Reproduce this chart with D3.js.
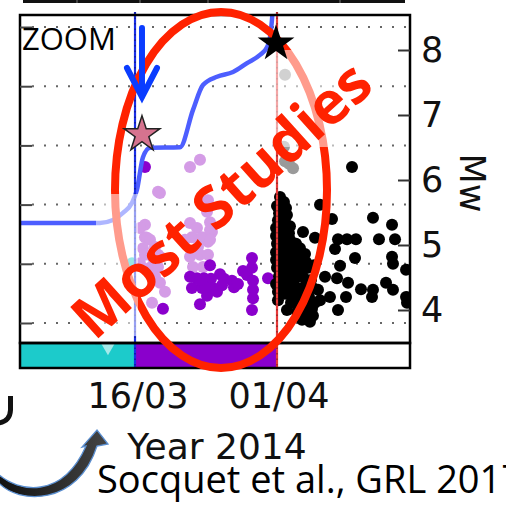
<!DOCTYPE html>
<html><head><meta charset="utf-8">
<script src="https://cdn.jsdelivr.net/npm/d3@7"></script>
<style>
html,body{margin:0;padding:0;background:#fff;}
svg{display:block;}
</style></head>
<body>
<svg id="chart" width="506" height="509"></svg>
<script>
// Time axis: day number counted from 1 March 2014 (1 April = day 32)
const xTickValues = [16, 32];
const xTickLabels = ["16/03", "01/04"];
const mwTicks = [4, 5, 6, 7, 8];
// log10 of cumulative seismic moment (N·m); labels fall outside the panel
const momentTicks = [16, 17, 18, 19, 20, 21];

// Phase bands below the panel: [start, end) in days
const phaseBounds = [2.67, 15.72, 31.83, 46.92];
const phaseNames = ["preparation", "precursory", "aftershocks"];
const bandMarkerDays = [12.65];

// Reference times marked by vertical lines
const foreshockLineDay = 15.72;
const mainshockLineDay = 31.83;

// Main events
const foreshockStar = [16.51, 6.7];
const mainshockStar = [31.72, 8.1];

// Cumulative moment curve
const cumDays = [2.67, 11.74, 13.22, 14.35, 15.38, 15.94, 16.62, 17.42, 20.82, 22.30, 23.43, 25.02, 26.84, 28.43, 29.90, 30.70, 31.04, 31.26, 31.38];
const cumMoment = [17.69, 17.69, 17.74, 17.86, 18.03, 18.25, 18.80, 18.96, 18.97, 19.60, 20.02, 20.16, 20.24, 20.39, 20.53, 20.66, 20.83, 21.12, 21.37];

// Catalogue events: [day, Mw]
const earlyQuakes = [[15.38, 4.72]];
const swarmLight = [
  [21.96,6.20],[23.09,6.31],[18.33,5.82],[18.55,5.80],[23.66,5.66],[23.89,5.51],[24.00,5.69],[24.23,5.35],
  [24.45,5.20],[24.00,5.05],[16.85,5.31],[16.28,5.26],[16.85,5.12],[17.08,5.11],[17.42,5.08],[17.99,4.97],
  [16.62,4.95],[16.85,4.85],[17.76,4.80],[18.33,4.85],[18.55,4.82],[16.28,4.72],[17.42,4.65],[18.33,4.66],
  [17.99,4.51],[18.55,4.42],[19.12,4.28],[17.65,4.11],[21.96,5.34],[22.75,5.26],[22.18,5.12],[23.32,5.12],
  [24.23,5.23],[24.23,5.08],[22.87,4.97],[21.96,4.82],[23.09,4.85],[24.00,4.85],[22.30,4.66],[23.43,4.66],
  [21.39,5.08]
];
const swarmDark = [
  [16.85,6.20],[18.89,4.02],[21.96,4.51],[22.18,4.34],[22.75,4.49],[23.09,4.09],[23.32,4.34],[23.55,4.49],
  [23.89,4.22],[24.23,4.69],[24.34,4.48],[24.57,4.34],[25.02,4.28],[25.36,4.55],[25.82,4.48],[26.72,4.45],
  [26.95,4.35],[27.97,4.60],[28.43,4.54],[28.99,4.80],[28.99,4.65],[29.11,4.45],[29.11,4.31],[29.11,4.18],
  [28.99,4.00],[30.81,4.49],[27.40,4.40],[25.59,4.38],[23.66,4.35],[23.09,4.46]
];
const largeAftershocks = [[32.74,7.62],[32.62,6.51],[32.74,6.29],[33.19,6.25],[33.65,6.18]];
const aftershocks = [
  [32.17,5.74],[32.62,5.66],[31.83,5.60],[32.85,5.57],[32.06,5.49],[32.96,5.46],[31.94,5.38],[32.74,5.35],
  [33.30,5.29],[31.72,5.26],[32.51,5.23],[33.19,5.18],[31.72,5.14],[32.40,5.11],[33.30,5.08],[33.99,5.02],
  [31.83,5.02],[32.62,4.98],[33.53,4.94],[34.44,4.95],[31.72,4.89],[32.51,4.86],[33.30,4.83],[34.21,4.83],
  [35.01,4.86],[31.72,4.77],[32.51,4.74],[33.42,4.72],[34.33,4.72],[35.12,4.74],[31.83,4.65],[32.74,4.62],
  [33.65,4.60],[34.55,4.62],[35.35,4.65],[36.03,4.69],[32.06,4.52],[32.96,4.49],[33.87,4.48],[34.78,4.51],
  [35.69,4.46],[32.28,4.38],[33.19,4.35],[34.10,4.34],[35.01,4.37],[35.91,4.34],[32.74,4.25],[33.65,4.22],
  [34.55,4.22],[35.46,4.20],[33.42,4.11],[34.33,4.08],[35.23,4.06],[36.14,4.11],[34.10,3.97],[35.01,3.94],
  [35.91,3.91],[34.67,3.85],[35.57,3.82],[31.94,4.28],[32.96,4.00],[31.72,4.40],[31.94,4.15],
  [36.48,4.31],[36.71,4.15],
  [36.71,5.62],[38.07,5.40],[42.72,5.42],[44.88,5.31],[34.78,5.20],[36.14,5.11],[38.75,5.09],[39.77,5.09],
  [40.79,5.09],[43.40,5.09],[45.22,5.09],[38.41,4.94],[40.68,4.80],[44.88,4.82],[44.99,4.71],[46.47,4.62],
  [38.98,4.68],[37.28,4.51],[38.64,4.49],[39.89,4.42],[41.36,4.32],[42.72,4.31],[44.20,4.42],[44.99,4.31],
  [42.61,4.20],[37.84,4.20],[39.66,4.20],[35.80,4.02],[38.75,4.00],[46.47,4.20],[46.58,4.11],[40.34,6.20]
];

// ---------- layout ----------
const P = {left: 20, right: 410, top: 15, bottom: 343, bandBottom: 368};
const phaseColors = {preparation: "#1ccbcb", precursory: "#8a00cc", aftershocks: "#ffffff"};

const svg = d3.select("#chart");

const x = d3.scaleLinear().domain([phaseBounds[0], phaseBounds[3]]).range([P.left, P.right]);
const yMw = d3.scaleLinear().domain([3.4923, 8.5385]).range([P.bottom, P.top]);
const yMo = d3.scaleLinear().domain([15.662, 21.203]).range([P.bottom, P.top]);

const defs = svg.append("defs");
defs.append("clipPath").attr("id", "plotClip").append("rect")
  .attr("x", P.left).attr("y", P.top).attr("width", P.right - P.left).attr("height", P.bottom - P.top);
const grad = defs.append("linearGradient").attr("id", "arrowFill").attr("x1", 0).attr("y1", 0).attr("x2", 1).attr("y2", 0);
grad.append("stop").attr("offset", "0%").attr("stop-color", "#111");
grad.append("stop").attr("offset", "100%").attr("stop-color", "#444");

// bottom edge of the panel above
const topPanel = svg.append("g");
topPanel.append("line").attr("x1", 23).attr("x2", 405).attr("y1", 1.5).attr("y2", 1.5)
  .attr("stroke", "#111").attr("stroke-width", 3);
[77, 140, 208, 340].forEach(px => topPanel.append("line").attr("x1", px).attr("x2", px)
  .attr("y1", 0).attr("y2", 3).attr("stroke", "#777").attr("stroke-width", 1));

// phase band
svg.append("g").selectAll("rect").data(phaseNames).join("rect")
  .attr("x", (d, i) => x(phaseBounds[i]))
  .attr("width", (d, i) => x(phaseBounds[i + 1]) - x(phaseBounds[i]))
  .attr("y", P.bottom).attr("height", P.bandBottom - P.bottom)
  .attr("fill", d => phaseColors[d]);

// gridlines at moment ticks
svg.append("g").selectAll("line").data(momentTicks).join("line")
  .attr("x1", P.left + 12).attr("x2", P.right)
  .attr("y1", d => yMo(d)).attr("y2", d => yMo(d))
  .attr("stroke", "#666").attr("stroke-width", 2).attr("stroke-dasharray", "2,10");

// earthquakes
const pts = svg.append("g").attr("clip-path", "url(#plotClip)");
function dots(data, color) {
  pts.append("g").selectAll("circle").data(data).join("circle")
    .attr("cx", d => x(d[0])).attr("cy", d => yMw(d[1])).attr("r", 6).attr("fill", color);
}
dots(earlyQuakes, "#1ccbcb");
dots(swarmLight, "#d49ce6");
dots(swarmDark, "#8a00cc");
dots(largeAftershocks, "#9a9a9a");
dots(aftershocks, "#000");

// cumulative moment
const cum = cumDays.map((d, i) => [d, cumMoment[i]]);
svg.append("path").attr("clip-path", "url(#plotClip)")
  .datum(cum)
  .attr("d", d3.line().x(d => x(d[0])).y(d => yMo(d[1])).curve(d3.curveMonotoneX))
  .attr("fill", "none").attr("stroke", "#4d5eff").attr("stroke-width", 4.5)
  .attr("stroke-linejoin", "round");

// reference lines
function refLine(day, color) {
  svg.append("line").attr("x1", x(day)).attr("x2", x(day)).attr("y1", 12).attr("y2", P.bandBottom)
    .attr("stroke", color).attr("stroke-width", 2.2);
  svg.append("line").attr("x1", x(day)).attr("x2", x(day)).attr("y1", 12).attr("y2", P.bandBottom)
    .attr("stroke", "#000").attr("stroke-width", 1).attr("stroke-dasharray", "1.5,4").attr("opacity", 0.55);
}
refLine(foreshockLineDay, "#1a2ee8");
refLine(mainshockLineDay, "#e83a3a");

// band markers
svg.append("g").selectAll("path").data(bandMarkerDays).join("path")
  .attr("transform", d => `translate(${x(d)},${P.bottom + 3}) rotate(180)`)
  .attr("d", d3.symbol().type(d3.symbolTriangle).size(110))
  .attr("fill", "#fff").attr("opacity", 0.6);

// frames
svg.append("rect").attr("x", P.left).attr("y", P.top).attr("width", P.right - P.left).attr("height", P.bottom - P.top)
  .attr("fill", "none").attr("stroke", "#000").attr("stroke-width", 2.5);
svg.append("rect").attr("x", P.left).attr("y", P.bottom).attr("width", P.right - P.left).attr("height", P.bandBottom - P.bottom)
  .attr("fill", "none").attr("stroke", "#000").attr("stroke-width", 2.5);

// axes
const fontTick = "'DejaVu Sans', sans-serif";
const rightAxis = svg.append("g").attr("transform", `translate(${P.right},0)`)
  .call(d3.axisRight(yMw).tickValues(mwTicks).tickSizeInner(-12).tickSizeOuter(0).tickPadding(11).tickFormat(d3.format("d")));
rightAxis.select(".domain").remove();
rightAxis.selectAll("line").attr("stroke", "#333").attr("stroke-width", 2);
rightAxis.selectAll("text").attr("font-family", fontTick).attr("font-size", 35).attr("fill", "#111");

const leftAxis = svg.append("g").attr("transform", `translate(${P.left},0)`)
  .call(d3.axisLeft(yMo).tickValues(momentTicks).tickSizeInner(-12).tickSizeOuter(0).tickFormat(() => ""));
leftAxis.select(".domain").remove();
leftAxis.selectAll("line").attr("stroke", "#444").attr("stroke-width", 2);

const bottomAxis = svg.append("g").attr("transform", `translate(0,${P.bandBottom})`)
  .call(d3.axisBottom(x).tickValues(xTickValues).tickSize(0).tickPadding(15).tickFormat((d, i) => xTickLabels[i]));
bottomAxis.select(".domain").remove();
bottomAxis.selectAll("text").attr("font-family", fontTick).attr("font-size", 35).attr("fill", "#111");

svg.append("text").attr("transform", "translate(472,183) rotate(90)")
  .attr("text-anchor", "middle").attr("dominant-baseline", "central")
  .attr("font-family", fontTick).attr("font-size", 35).attr("fill", "#111").text("Mw");

svg.append("text").attr("x", 217).attr("y", 459).attr("text-anchor", "middle")
  .attr("font-family", fontTick).attr("font-size", 36).attr("fill", "#111").text("Year 2014");

// highlight ellipse
svg.append("ellipse").attr("cx", 221).attr("cy", 190).attr("rx", 106).attr("ry", 178)
  .attr("fill", "none").attr("stroke", "#ff2200").attr("stroke-width", 8);

// translucent veils
svg.append("rect").attr("x", 96).attr("y", 194).attr("width", 42).attr("height", 142).attr("fill", "#fff").attr("opacity", 0.55);
svg.append("rect").attr("x", 272).attr("y", 50).attr("width", 64).attr("height", 97).attr("fill", "#fff").attr("opacity", 0.55);

// stars
svg.append("path").attr("transform", `translate(${x(foreshockStar[0])},${yMw(foreshockStar[1])})`)
  .attr("d", d3.symbol().type(d3.symbolStar).size(400))
  .attr("fill", "#d6738f").attr("stroke", "#222").attr("stroke-width", 1.5);
svg.append("path").attr("transform", `translate(${x(mainshockStar[0])},${yMw(mainshockStar[1])})`)
  .attr("d", d3.symbol().type(d3.symbolStar).size(420))
  .attr("fill", "#000");

// annotation text
svg.append("text").attr("transform", "translate(220,198) rotate(-42)")
  .attr("text-anchor", "middle").attr("dominant-baseline", "central")
  .attr("font-family", "'Open Sans', sans-serif").attr("font-weight", 700).attr("font-size", 59)
  .attr("fill", "#ff2200").text("Most Studies");

svg.append("text").attr("x", 22).attr("y", 50)
  .attr("font-family", "'Open Sans', sans-serif").attr("font-size", 31).attr("fill", "#000").text("ZOOM");

// zoom arrow
const zx = x(foreshockStar[0]);
svg.append("path").attr("d", `M${zx},28 L${zx},97 M${zx - 15},68 L${zx},97 L${zx + 15},68`)
  .attr("fill", "none").attr("stroke", "#0a3cff").attr("stroke-width", 6)
  .attr("stroke-linecap", "round").attr("stroke-linejoin", "miter");

// citation and curved arrow
svg.append("text").attr("x", 97).attr("y", 493)
  .attr("font-family", "'Open Sans', sans-serif").attr("font-size", 38).attr("fill", "#000")
  .text("Socquet et al., GRL 2017");

svg.append("path")
  .attr("d", "M-2,474 C18,492 62,500 86,446 L82,447 L97,430 L108,444 L97,446 C78,506 18,505 -2,482 Z")
  .attr("fill", "url(#arrowFill)").attr("stroke", "#5b8fd0").attr("stroke-width", 1.3);
svg.append("path").attr("d", "M10.5,396 L10.5,410 Q10,421 -1,423")
  .attr("fill", "none").attr("stroke", "#111").attr("stroke-width", 5);
</script>
</body></html>
